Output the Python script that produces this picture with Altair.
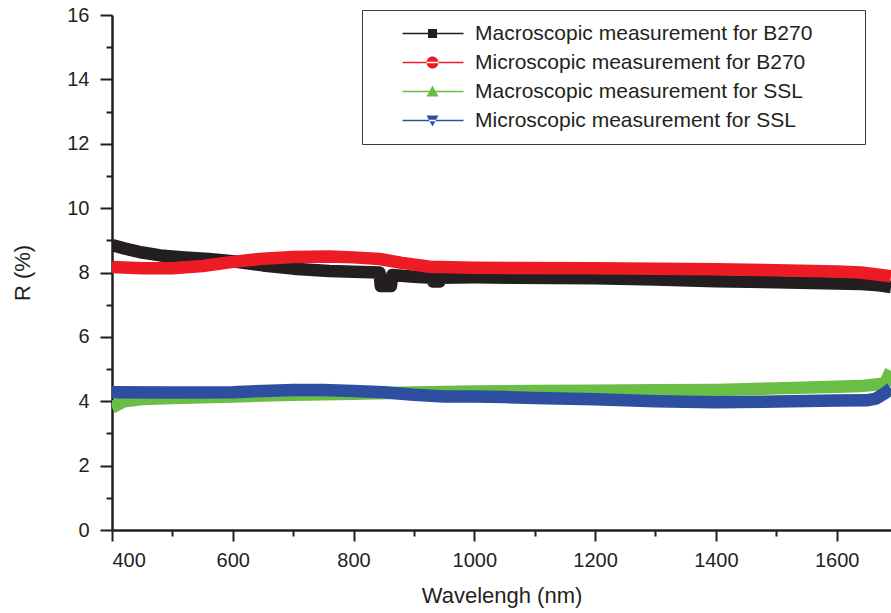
import altair as alt
import pandas as pd

series_names = [
    "Macroscopic measurement for B270",
    "Microscopic measurement for B270",
    "Macroscopic measurement for SSL",
    "Microscopic measurement for SSL",
]
series_colors = ["#231f20", "#ed1c24", "#6abd45", "#2e4ea0"]

# Macroscopic B270 (black)
macro_b270_wl = [400, 420, 450, 480, 520, 560, 600, 650, 700, 760, 800, 843, 845, 862, 864,
                 900, 930, 932, 942, 944, 1000, 1064, 1200, 1300, 1400, 1500, 1600, 1640, 1670, 1690]
macro_b270_r = [8.85, 8.75, 8.62, 8.53, 8.47, 8.42, 8.35, 8.22, 8.12, 8.05, 8.02, 8.0, 7.58, 7.58, 7.92,
                7.87, 7.84, 7.72, 7.72, 7.84, 7.85, 7.84, 7.82, 7.78, 7.73, 7.7, 7.66, 7.64, 7.6, 7.55]

# Microscopic B270 (red)
micro_b270_wl = [400, 450, 500, 550, 600, 650, 700, 760, 800, 843, 880, 926, 1000, 1064, 1200,
                 1300, 1400, 1500, 1600, 1640, 1670, 1690]
micro_b270_r = [8.17, 8.13, 8.13, 8.2, 8.33, 8.43, 8.48, 8.5, 8.47, 8.42, 8.3, 8.18, 8.15, 8.14, 8.13,
                8.12, 8.1, 8.07, 8.03, 8.0, 7.93, 7.88]

# Macroscopic SSL (green)
macro_ssl_wl = [400, 405, 420, 450, 500, 600, 700, 800, 900, 1000, 1100, 1200, 1300, 1400, 1500,
                1600, 1640, 1680, 1690]
macro_ssl_r = [3.8, 3.85, 4.0, 4.07, 4.1, 4.15, 4.2, 4.23, 4.27, 4.3, 4.32, 4.33, 4.34, 4.35, 4.4,
               4.45, 4.47, 4.55, 4.95]

# Microscopic SSL (blue)
micro_ssl_wl = [400, 500, 600, 650, 700, 750, 800, 850, 900, 950, 1000, 1050, 1100, 1200, 1300,
                1400, 1500, 1600, 1650, 1665, 1680, 1690]
micro_ssl_r = [4.28, 4.27, 4.28, 4.32, 4.35, 4.35, 4.32, 4.28, 4.2, 4.15, 4.15, 4.13, 4.1, 4.06, 4.0,
               3.97, 3.99, 4.02, 4.03, 4.08, 4.25, 4.4]

x_ticks = [400, 500, 600, 700, 800, 900, 1000, 1100, 1200, 1300, 1400, 1500, 1600]
y_ticks = list(range(0, 17))

all_wl = [macro_b270_wl, micro_b270_wl, macro_ssl_wl, micro_ssl_wl]
all_r = [macro_b270_r, micro_b270_r, macro_ssl_r, micro_ssl_r]
rows = []
for name, wls, rs in zip(series_names, all_wl, all_r):
    for w, r in zip(wls, rs):
        rows.append({"series": name, "wl": w, "R": r})
df = pd.DataFrame(rows)

# legend symbols: a short line with a marker in the middle
line_part = "M-1,0M1.7,-0.07L7.8,-0.07L7.8,0.07L1.7,0.07Z"
ext = "M46.6,0"
sym_square = line_part + "M4.25,-0.45L5.15,-0.45L5.15,0.45L4.25,0.45Z" + ext
sym_circle = line_part + "M4.1,0A0.6,0.6 0 1,0 5.3,0A0.6,0.6 0 1,0 4.1,0Z" + ext
sym_up = line_part + "M4.7,-0.6L5.3,0.5L4.1,0.5Z" + ext
sym_down = line_part + "M4.7,0.6L5.3,-0.5L4.1,-0.5Z" + ext
series_shapes = [sym_square, sym_circle, sym_up, sym_down]

FONT = "Liberation Sans"
TXT = "#231f20"

x_scale = alt.Scale(domain=[400, 1690], nice=False, zero=False)
y_scale = alt.Scale(domain=[0, 16], nice=False, zero=False)

x_axis = alt.Axis(
    values=x_ticks,
    labelExpr="datum.value % 200 == 0 ? datum.label : ''",
    title="Wavelengh (nm)",
    grid=False,
    tickSize={"condition": {"test": "datum.value % 200 == 0", "value": 11}, "value": 6},
    tickWidth=2, tickColor=TXT, domainColor=TXT, domainWidth=2.5,
    labelFont=FONT, labelFontSize=20, labelColor=TXT, labelPadding=9,
    titleFont=FONT, titleFontSize=22, titleFontWeight="normal", titleColor=TXT, titlePadding=15,
    format="d",
)
y_axis = alt.Axis(
    values=y_ticks,
    labelExpr="datum.value % 2 == 0 ? datum.label : ''",
    title="R (%)",
    grid=False,
    tickSize={"condition": {"test": "datum.value % 2 == 0", "value": 12}, "value": 6},
    tickWidth=2, tickColor=TXT, domainColor=TXT, domainWidth=2.5,
    labelFont=FONT, labelFontSize=20, labelColor=TXT, labelPadding=11,
    titleFont=FONT, titleFontSize=22, titleFontWeight="normal", titleColor=TXT, titlePadding=32,
)

legend_kw = dict(
    title=None, orient="none", legendX=250, legendY=-5,
    symbolSize=400, symbolStrokeWidth=0, labelOffset=79, labelLimit=0,
    labelFont=FONT, labelFontSize=21, labelColor=TXT,
    strokeColor="#3a3a3a", padding=13, rowPadding=7,
)

points = alt.Chart(df).mark_point(filled=True, size=4, opacity=1).encode(
    x=alt.X("wl:Q", scale=x_scale, axis=x_axis),
    y=alt.Y("R:Q", scale=y_scale, axis=y_axis),
    color=alt.Color("series:N", scale=alt.Scale(domain=series_names, range=series_colors),
                    legend=alt.Legend(**legend_kw)),
    shape=alt.Shape("series:N", scale=alt.Scale(domain=series_names, range=series_shapes),
                    legend=alt.Legend(**legend_kw)),
)

layers = [points]
for name in series_names:
    layers.append(
        alt.Chart(df).transform_filter(alt.datum.series == name).mark_line(
            strokeWidth=12.5, clip=True, strokeJoin="round", strokeCap="butt"
        ).encode(
            x=alt.X("wl:Q", scale=x_scale, axis=x_axis),
            y=alt.Y("R:Q", scale=y_scale, axis=y_axis),
            color=alt.Color("series:N", scale=alt.Scale(domain=series_names, range=series_colors),
                            legend=None),
        )
    )

chart = alt.layer(*layers).properties(
    width=779, height=515,
    autosize=alt.AutoSizeParams(type="none"),
    padding={"left": 112, "top": 15, "right": 0, "bottom": 83},
    background="white",
).configure_view(stroke=None)

chart.save("out.html", embed_options={"renderer": "svg", "actions": False})
